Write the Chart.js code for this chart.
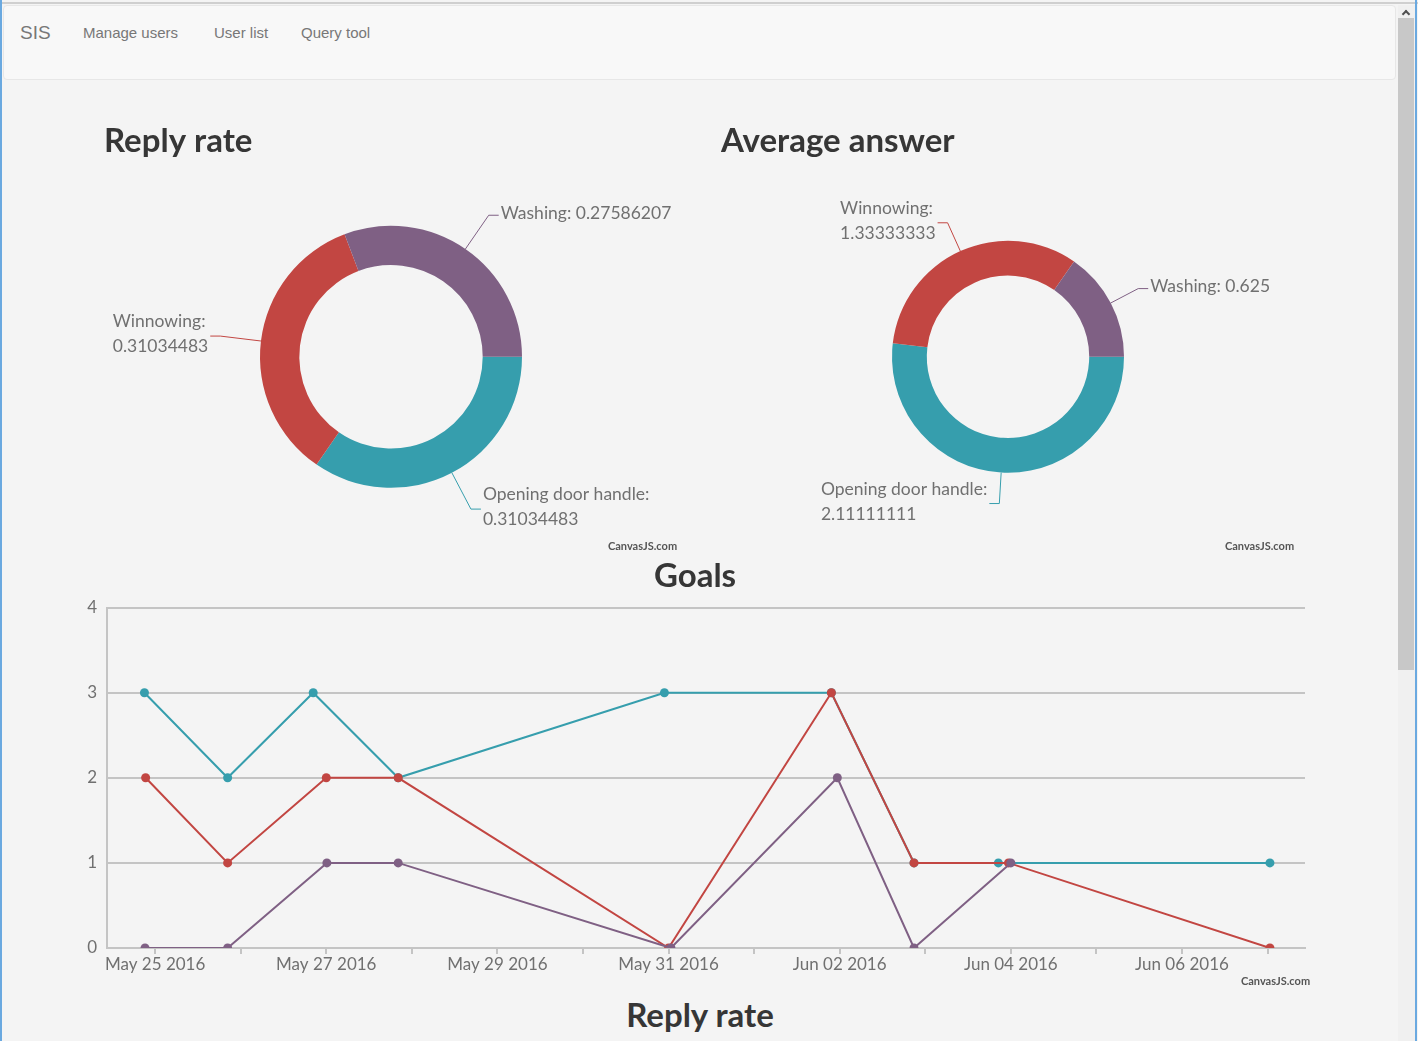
<!DOCTYPE html>
<html lang="en">
<head>
  <meta charset="UTF-8" />
  <title>SIS</title>
  <script src="https://cdn.jsdelivr.net/npm/chart.js"></script>
  <style>
    html, body {
      margin: 0;
      padding: 0;
    }

    body {
      width: 1418px;
      height: 1041px;
      overflow: hidden;
      position: relative;
      background-color: #f4f4f4;
      font-family: "Liberation Sans", Arial, sans-serif;
    }

    .frame-top {
      position: absolute;
      left: 0;
      top: 2px;
      width: 1418px;
      height: 2px;
      background-color: #cfcfcf;
    }

    .frame-left,
    .frame-right {
      position: absolute;
      top: 0;
      width: 2px;
      height: 1041px;
      background-color: #6aa9e0;
    }

    .frame-left { left: 0; }
    .frame-right { left: 1415px; }

    .navbar {
      position: absolute;
      left: 3px;
      top: 5px;
      width: 1391px;
      height: 73px;
      background-color: #f8f8f8;
      border: 1px solid #e7e7e7;
      border-radius: 4px;
    }

    .navbar span,
    .navbar a {
      position: absolute;
      color: #777;
      text-decoration: none;
      white-space: nowrap;
    }

    .navbar .brand {
      left: 16px;
      top: 16px;
      font-size: 19px;
      line-height: 22px;
    }

    .navbar a {
      top: 18px;
      font-size: 15px;
      line-height: 18px;
    }

    .box {
      position: absolute;
    }

    .watermark {
      position: absolute;
      font-family: Lato, sans-serif;
      font-size: 11px;
      font-weight: bold;
      color: #555;
      line-height: 12px;
    }

    .next-title {
      position: absolute;
      left: 0;
      top: 995px;
      width: 1400px;
      text-align: center;
      font-family: Lato, sans-serif;
      font-size: 33px;
      font-weight: bold;
      line-height: 38px;
      color: #363636;
    }

    .scrollbar {
      position: absolute;
      left: 1398px;
      top: 5px;
      width: 17px;
      height: 1036px;
      background-color: #f0f0f0;
    }

    .scrollbar .thumb {
      position: absolute;
      left: 0;
      top: 13px;
      width: 16px;
      height: 652px;
      background-color: #c8c8c8;
    }

    .scrollbar .arrow {
      position: absolute;
      left: 5px;
      top: 6px;
      width: 4px;
      height: 4px;
      border-left: 2px solid #505050;
      border-top: 2px solid #505050;
      transform: rotate(45deg);
    }
  </style>
</head>
<body>
  <div class="frame-top"></div>

  <!-- Navbar -->
  <div class="navbar">
    <span class="brand">SIS</span>
    <a href="#" style="left: 79px;">Manage users</a>
    <a href="#" style="left: 210px;">User list</a>
    <a href="#" style="left: 297px;">Query tool</a>
  </div>

  <!-- Doughnuts -->
  <div class="box" style="left: 104px; top: 100px; width: 576px; height: 455px;">
    <canvas id="replyRateChart"></canvas>
  </div>
  <div class="box" style="left: 721px; top: 100px; width: 576px; height: 455px;">
    <canvas id="averageAnswerChart"></canvas>
  </div>
  <span class="watermark" style="left: 608px; top: 540px;">CanvasJS.com</span>
  <span class="watermark" style="left: 1225px; top: 540px;">CanvasJS.com</span>

  <!-- Goals line chart -->
  <div class="box" style="left: 85px; top: 550px; width: 1230px; height: 440px;">
    <canvas id="goalsChart"></canvas>
  </div>
  <span class="watermark" style="left: 1241px; top: 975px;">CanvasJS.com</span>

  <div class="next-title">Reply rate</div>

  <div class="scrollbar"><div class="arrow"></div><div class="thumb"></div></div>
  <div class="frame-left"></div>
  <div class="frame-right"></div>

  <script>
    // doughnut data
    const sliceNames = ["Opening door handle", "Winnowing", "Washing"];
    const replyRate = [0.31034483, 0.31034483, 0.27586207];
    const averageAnswer = [2.11111111, 1.33333333, 0.625];

    // goals per day, one list of dates and one of values per series
    const openingDates = ["2016-05-24T21:00", "2016-05-25T20:20", "2016-05-26T20:20", "2016-05-27T20:10", "2016-05-30T22:50", "2016-06-01T21:40", "2016-06-02T20:50", "2016-06-03T20:30", "2016-06-07T00:40"];
    const openingGoals = [3, 2, 3, 2, 3, 3, 1, 1, 1];
    const winnowingDates = ["2016-05-24T21:20", "2016-05-25T20:20", "2016-05-27T00:00", "2016-05-27T20:10", "2016-05-31T00:00", "2016-06-01T21:40", "2016-06-02T20:50", "2016-06-03T23:20", "2016-06-07T00:40"];
    const winnowingGoals = [2, 1, 2, 2, 0, 3, 1, 1, 0];
    const washingDates = ["2016-05-24T21:10", "2016-05-25T20:20", "2016-05-27T00:10", "2016-05-27T20:10", "2016-05-31T00:40", "2016-06-01T23:20", "2016-06-02T20:50", "2016-06-04T00:00"];
    const washingGoals = [0, 0, 1, 1, 0, 2, 0, 1];

    // one entry per day starting May 25 2016
    const dayLabels = ["May 25 2016", "", "May 27 2016", "", "May 29 2016", "", "May 31 2016", "", "Jun 02 2016", "", "Jun 04 2016", "", "Jun 06 2016", ""];
    const axisStart = "2016-05-24T10:30";
    const axisEnd = "2016-06-07T10:30";

    const colors = ["#369EAD", "#C24642", "#7F6084"];
    const labelGrey = "#707070";
    const titleGrey = "#363636";

    Chart.defaults.font.family = "Lato, 'Open Sans', sans-serif";

    const day0 = Date.parse("2016-05-25T00:00:00Z");
    const toDay = s => (Date.parse(s + ":00Z") - day0) / 864e5;

    // index labels outside the ring with a bent connector line
    const sliceLabelPlugin = {
      id: "sliceLabels",
      afterDatasetsDraw(chart, args, opts) {
        const ctx = chart.ctx;
        const meta = chart.getDatasetMeta(0);
        const values = chart.data.datasets[0].data;
        const lh = 25;
        ctx.save();
        ctx.font = "17.5px Lato";
        ctx.textBaseline = "middle";
        ctx.fillStyle = labelGrey;
        meta.data.forEach((arc, i) => {
          const p = arc.getProps(["x", "y", "startAngle", "endAngle", "outerRadius"], true);
          const mid = (p.startAngle + p.endAngle) / 2;
          const cos = Math.cos(mid), sin = Math.sin(mid);
          const x0 = p.x + cos * p.outerRadius;
          const y0 = p.y + sin * p.outerRadius;
          const x1 = p.x + cos * (p.outerRadius + opts.offset);
          const y1 = p.y + sin * (p.outerRadius + opts.offset);
          const dir = cos >= 0 ? 1 : -1;
          const x2 = x1 + dir * 10;

          ctx.strokeStyle = colors[i];
          ctx.lineWidth = 1;
          ctx.beginPath();
          ctx.moveTo(x0, y0);
          ctx.lineTo(x1, y1);
          ctx.lineTo(x2, y1);
          ctx.stroke();

          const full = chart.data.labels[i] + ": " + values[i];
          const lines = ctx.measureText(full).width > opts.wrap
            ? [chart.data.labels[i] + ":", String(values[i])]
            : [full];
          const w = Math.max(...lines.map(l => ctx.measureText(l).width));
          const left = dir > 0 ? x2 + 2 : x2 - 2 - w;
          const top = y1 - 2 - (lines.length - 1) * lh / 2;
          ctx.textAlign = "left";
          lines.forEach((l, k) => ctx.fillText(l, left, top + k * lh));
        });
        ctx.restore();
      }
    };

    function ring(id, title, values, radius, offset) {
      return new Chart(document.getElementById(id), {
        type: "doughnut",
        data: {
          labels: sliceNames,
          datasets: [{
            data: values,
            backgroundColor: colors,
            borderWidth: 0,
            hoverOffset: 0,
          }],
        },
        options: {
          responsive: true,
          maintainAspectRatio: false,
          animation: false,
          events: [],
          rotation: 90,
          radius: radius,
          cutout: "70%",
          layout: { padding: { left: 0, right: 2, top: 0, bottom: 3 } },
          plugins: {
            legend: { display: false },
            tooltip: { enabled: false },
            title: {
              display: true,
              text: title,
              align: "start",
              color: titleGrey,
              font: { size: 33, weight: "bold" },
              padding: { top: 22, bottom: 0 },
            },
            sliceLabels: { offset: offset, wrap: 184 },
          },
        },
        plugins: [sliceLabelPlugin],
      });
    }

    ring("replyRateChart", "Reply rate", replyRate, 131, 41);
    ring("averageAnswerChart", "Average answer", averageAnswer, 116, 31);

    function series(name, dates, values, color, order) {
      return {
        label: name,
        data: dates.map((d, i) => ({ x: toDay(d), y: values[i] })),
        borderColor: color,
        backgroundColor: color,
        borderWidth: 2,
        pointRadius: 4.5,
        pointBorderWidth: 0,
        pointBackgroundColor: color,
        tension: 0,
        order: order,
      };
    }

    const gridGrey = "#c4c4c4";

    new Chart(document.getElementById("goalsChart"), {
      type: "line",
      data: {
        datasets: [
          series(sliceNames[0], openingDates, openingGoals, colors[0], 3),
          series(sliceNames[1], winnowingDates, winnowingGoals, colors[1], 2),
          series(sliceNames[2], washingDates, washingGoals, colors[2], 1),
        ],
      },
      options: {
        responsive: true,
        maintainAspectRatio: false,
        animation: false,
        events: [],
        layout: { padding: { left: 0, right: 10, top: 0, bottom: 0 } },
        plugins: {
          legend: { display: false },
          tooltip: { enabled: false },
          title: {
            display: true,
            text: "Goals",
            color: titleGrey,
            font: { size: 33, weight: "bold" },
            padding: { top: 7, bottom: 11 },
          },
        },
        scales: {
          x: {
            type: "linear",
            min: toDay(axisStart),
            max: toDay(axisEnd),
            afterBuildTicks: s => { s.ticks = dayLabels.map((_, i) => ({ value: i })); },
            afterFit: s => { s.height = 42; },
            ticks: {
              autoSkip: false,
              maxRotation: 0,
              padding: 0,
              color: labelGrey,
              font: { size: 17 },
              callback: (v, i) => dayLabels[i],
            },
            grid: { drawOnChartArea: false, drawTicks: true, tickLength: 6, color: gridGrey, lineWidth: 2 },
            border: { color: gridGrey, width: 2 },
          },
          y: {
            min: 0,
            max: 4,
            afterFit: s => { s.width = 22; },
            ticks: { stepSize: 1, padding: 10, color: labelGrey, font: { size: 17 } },
            grid: { drawTicks: false, color: gridGrey, lineWidth: 2 },
            border: { color: gridGrey, width: 2 },
          },
        },
      },
    });
  </script>
</body>
</html>
